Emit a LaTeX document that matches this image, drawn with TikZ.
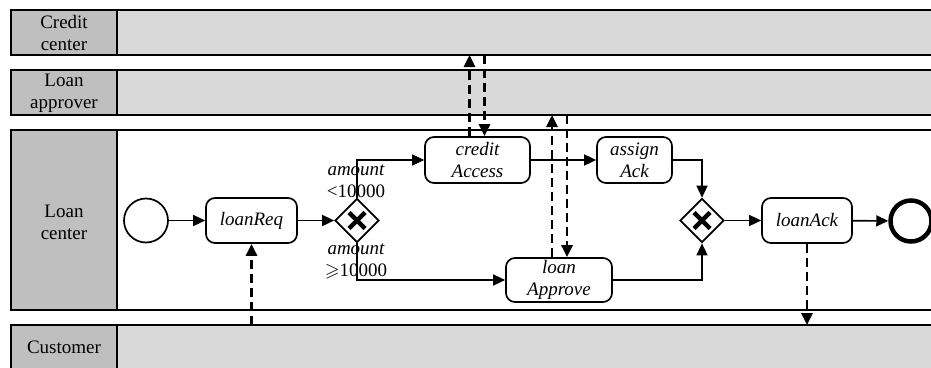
\documentclass[tikz,border=0pt]{standalone}
\usepackage{amssymb}
\usepackage{fontspec}
\setmainfont{Liberation Serif}
\usetikzlibrary{arrows.meta,shapes.geometric}
\definecolor{lanegray}{RGB}{217,217,217}
\definecolor{headgray}{RGB}{191,191,191}
\tikzset{
  lane/.style={draw,line width=1.6pt},
  task/.style={draw,line width=1.7pt,rounded corners=9pt,fill=white,align=center,inner sep=0pt},
  gate/.style={draw,diamond,line width=1.7pt,fill=white,minimum width=44pt,minimum height=44pt,inner sep=0pt},
  flow/.style={line width=1.6pt,-{Triangle[length=12pt,width=11pt]}},
  msg/.style={line width=2.8pt,dash pattern=on 9pt off 5pt,-{Triangle[length=12pt,width=11pt]}},
}
\begin{document}
\fontsize{19}{22}\selectfont
\begin{tikzpicture}[x=1pt,y=-1pt]
\useasboundingbox (0,0) rectangle (931,367);
\clip (0,0) rectangle (931,367);
% pools
\foreach \top/\bot/\body in {10/55/lanegray,70/115/lanegray,130/310/white,325/380/lanegray}{
  \draw[lane,fill=\body] (117,\top) rectangle (945,\bot);
  \draw[lane,fill=headgray] (11,\top) rectangle (117,\bot);
}
\node[align=center] (lcc) at (64,33) {Credit\\center};
\node[align=center] (lla) at (64,93) {Loan\\approver};
\node[align=center] (llc) at (64,222) {Loan\\center};
\node (lcu) at (64,347) {Customer};
\coordinate (ccB) at (0,55); \coordinate (laB) at (0,115); \coordinate (cuT) at (0,325);
% process
\node[circle,draw,line width=1.7pt,minimum size=44pt] (start) at (146,220.5) {};
\node[task,minimum width=91pt,minimum height=45pt] (req) at (251.5,220.5) {\itshape loanReq};
\node[gate] (g1) at (357,220.5) {};
\node[task,minimum width=105pt,minimum height=46pt] (acc) at (477.5,160) {\itshape credit\\\itshape Access};
\node[task,minimum width=75pt,minimum height=46pt] (asg) at (634.5,160) {\itshape assign\\\itshape Ack};
\node[gate] (g2) at (702,220.5) {};
\node[task,minimum width=106pt,minimum height=44pt] (apr) at (559,280) {\itshape loan\\\itshape Approve};
\node[task,minimum width=90pt,minimum height=45pt] (ack) at (807,220.5) {\itshape loanAck};
\node[circle,draw,line width=4.5pt,minimum size=41pt] (end) at (911,221) {};
\foreach \g in {g1,g2}{
  \draw[line width=4.5pt] ([shift={(-8,-8)}]\g.center) -- ([shift={(8,8)}]\g.center);
  \draw[line width=4.5pt] ([shift={(-8,8)}]\g.center) -- ([shift={(8,-8)}]\g.center);
}
\node[align=center] (lo) at (356,181) {\itshape amount\\<10000};
\node[align=center] (hi) at (356,261) {\itshape amount\\$\geqslant$10000};
\draw[flow] (start) -- (req);
\draw[flow] (req) -- (g1);
\draw[flow] (g1.north) |- (acc);
\draw[flow] (g1.south) |- (apr);
\draw[flow] (acc) -- (asg);
\draw[flow] (asg) -| (g2.north);
\draw[flow] (apr) -| (g2.south);
\draw[flow] (g2) -- (ack);
\draw[flow] (ack) -- (end);
% messages
\draw[msg] ([xshift=-8pt]acc.north) -- ([xshift=-8pt]acc.north |- ccB);
\draw[msg] ([xshift=7pt]acc.north |- ccB) -- ([xshift=7pt]acc.north);
\draw[msg] ([xshift=-7pt]apr.north) -- ([xshift=-7pt]apr.north |- laB);
\draw[msg] ([xshift=8pt]apr.north |- laB) -- ([xshift=8pt]apr.north);
\draw[msg] (req.south |- cuT) -- (req.south);
\draw[msg] (ack.south) -- (ack.south |- cuT);
\end{tikzpicture}
\end{document}
